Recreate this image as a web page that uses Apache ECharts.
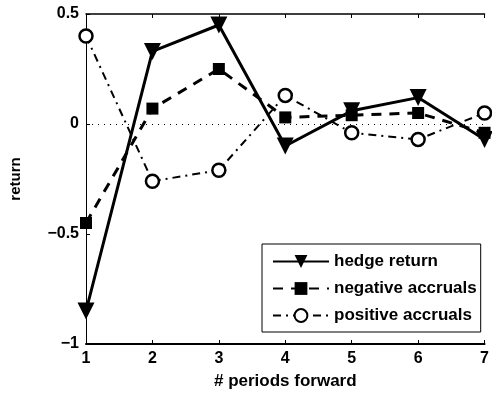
<!DOCTYPE html>
<html>
<head>
<meta charset="utf-8">
<script src="https://cdn.jsdelivr.net/npm/echarts@6/dist/echarts.min.js"></script>
<style>html,body{margin:0;padding:0;background:#fff}#c{width:492px;height:395px}</style>
</head>
<body>
<div id="c"></div>
<script>
const periods = [1, 2, 3, 4, 5, 6, 7];
const hedgeReturn = [-0.85, 0.33, 0.45, -0.10, 0.06, 0.12, -0.07];
const negativeAccruals = [-0.45, 0.07, 0.25, 0.03, 0.04, 0.05, -0.04];
const positiveAccruals = [0.40, -0.26, -0.21, 0.13, -0.04, -0.07, 0.05];
const seriesNames = ['hedge return', 'negative accruals', 'positive accruals'];
const yTicks = [-1, -0.5, 0, 0.5];

const pair = arr => periods.map((p, i) => [p, arr[i]]);
const font = 'Liberation Sans, Arial, sans-serif';
const chart = echarts.init(document.getElementById('c'), null, {renderer: 'canvas'});
chart.setOption({
  animation: false,
  backgroundColor: '#fff',
  grid: {left: 82, top: 14, width: 411, height: 330, containLabel: false},
  xAxis: [{
    type: 'value', min: 1, max: 7, interval: 1, position: 'bottom',
    name: '# periods forward', nameLocation: 'middle', nameGap: 29,
    nameTextStyle: {color: '#000', fontSize: 17, fontWeight: 'bold', fontFamily: font},
    axisLine: {show: true, onZero: false, lineStyle: {color: '#000', width: 2}},
    axisTick: {show: true, inside: true, length: 4, lineStyle: {color: '#000'}},
    axisLabel: {color: '#000', fontSize: 16, fontWeight: 'bold', fontFamily: font, margin: 7},
    splitLine: {show: false}
  }, {
    type: 'value', min: 1, max: 7, interval: 1, position: 'top',
    axisLine: {show: true, onZero: false, lineStyle: {color: '#000', width: 1.5}},
    axisTick: {show: true, inside: true, length: 4, lineStyle: {color: '#000'}},
    axisLabel: {show: false}, splitLine: {show: false}
  }],
  yAxis: {
    type: 'value', min: yTicks[0], max: yTicks[yTicks.length - 1], interval: 0.5,
    name: 'return', nameLocation: 'middle', nameGap: 63, nameRotate: 90,
    nameTextStyle: {color: '#000', fontSize: 15, fontWeight: 'bold', fontFamily: font},
    axisLine: {show: true, onZero: false, lineStyle: {color: '#000', width: 1}},
    axisTick: {show: true, inside: true, length: 4, lineStyle: {color: '#000'}},
    axisLabel: {color: '#000', fontSize: 16, fontWeight: 'bold', fontFamily: font, margin: 7,
      formatter: v => String(v).replace('-', '\u2212')},
    splitLine: {show: false}
  },
  legend: {
    orient: 'vertical', left: 262, top: 244,
    data: seriesNames,
    itemWidth: 56, itemHeight: 16, itemGap: 10,
    padding: [9, 4, 8, 10],
    borderColor: '#000', borderWidth: 1, backgroundColor: '#fff',
    textStyle: {color: '#000', fontSize: 17, fontWeight: 'bold', fontFamily: font}
  },
  series: [{
    name: seriesNames[0], type: 'line', data: pair(hedgeReturn),
    symbol: 'triangle', symbolRotate: 180, symbolSize: 17,
    itemStyle: {color: '#000'},
    lineStyle: {color: '#000', width: 3, type: 'solid'},
    markLine: {
      silent: true, symbol: 'none', label: {show: false},
      lineStyle: {color: '#000', width: 1, type: [1, 5]},
      data: [{yAxis: 0}]
    },
    z: 5
  }, {
    name: seriesNames[1], type: 'line', data: pair(negativeAccruals),
    symbol: 'rect', symbolSize: 12,
    itemStyle: {color: '#000'},
    lineStyle: {color: '#000', width: 3, type: [10, 8]},
    z: 4
  }, {
    name: seriesNames[2], type: 'line', data: pair(positiveAccruals),
    symbol: 'circle', symbolSize: 13,
    itemStyle: {color: '#fff', borderColor: '#000', borderWidth: 2.5},
    lineStyle: {color: '#000', width: 2, type: [8, 5, 2, 5]},
    z: 3
  }]
});
</script>
</body>
</html>
